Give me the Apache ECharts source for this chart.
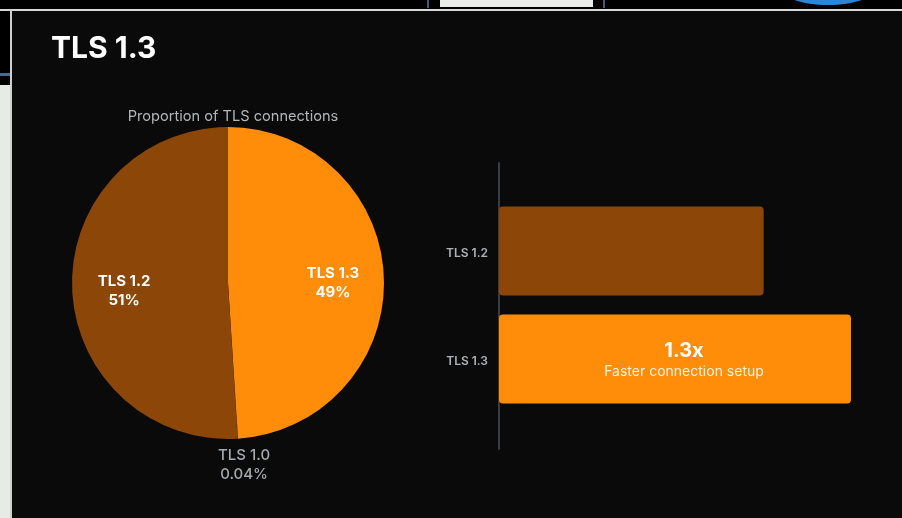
<!DOCTYPE html>
<html><head><meta charset="utf-8">
<script src="https://cdn.jsdelivr.net/npm/echarts@6/dist/echarts.min.js"></script>
<style>html,body{margin:0;padding:0;background:#000;}#c{width:902px;height:518px;}</style>
</head><body><div id="c"></div>
<script>
const pieTitle = 'Proportion of TLS connections';
const pieNames = ['TLS 1.3', 'TLS 1.0', 'TLS 1.2'];
const pieValues = [49, 0.04, 51];
const pieLabels = ['49%', '0.04%', '51%'];
const barCategories = ['TLS 1.2', 'TLS 1.3'];
const barValues = [1, 1.33];
const barNote = ['', '1.3x'];
const barSub = ['', 'Faster connection setup'];

const DARK = '#8c4607';
const BRIGHT = '#ff8d0a';
const FONT = 'Inter, "Noto Sans", sans-serif';

const chart = echarts.init(document.getElementById('c'), null, {renderer: 'canvas'});

const pieData = pieNames.map((n, i) => {
  const d = {name: n, value: pieValues[i], itemStyle: {color: i === 0 ? BRIGHT : (i === 1 ? '#c06a10' : DARK)}};
  if (i === 1) {
    d.label = {position: 'inside', color: '#a8abae', fontWeight: 500, offset: [11, 101]};
  } else if (i === 0) {
    d.label = {offset: [24, 3]};
  } else {
    d.label = {offset: [-23, 5]};
  }
  return d;
});

chart.setOption({
  backgroundColor: '#0a0a0a',
  animation: false,
  title: [{
    text: 'TLS 1.3', left: 46, top: 29,
    textStyle: {color: '#ffffff', fontSize: 30, fontWeight: 'bold', fontFamily: FONT}
  }, {
    text: pieTitle, left: 228, top: 104, textAlign: 'center',
    textStyle: {color: '#b3b6ba', fontSize: 14.6, fontWeight: 'normal', fontFamily: FONT}
  }],
  graphic: [
    {type: 'rect', shape: {x: 0, y: 0, width: 902, height: 9}, style: {fill: '#000'}, z: 100},
    {type: 'rect', shape: {x: 440, y: 0, width: 153, height: 7}, style: {fill: '#e9ece8'}, z: 101},
    {type: 'rect', shape: {x: 427, y: 0, width: 2, height: 8}, style: {fill: '#3d5a7a'}, z: 101},
    {type: 'rect', shape: {x: 603, y: 0, width: 2, height: 8}, style: {fill: '#3d5a7a'}, z: 101},
    {type: 'ellipse', shape: {cx: 828, cy: -14, rx: 50, ry: 19}, style: {fill: '#2a86d6'}, z: 101},
    {type: 'rect', shape: {x: 0, y: 9, width: 902, height: 2}, style: {fill: '#d8d8d8'}, z: 101},
    {type: 'rect', shape: {x: 0, y: 0, width: 10, height: 518}, style: {fill: '#000'}, z: 100},
    {type: 'rect', shape: {x: 0, y: 85, width: 10, height: 433}, style: {fill: '#e6ebe6'}, z: 101},
    {type: 'rect', shape: {x: 0, y: 73, width: 10, height: 3}, style: {fill: '#4a6a8a'}, z: 101},
    {type: 'rect', shape: {x: 10, y: 9, width: 2, height: 509}, style: {fill: '#cfcfcf'}, z: 101}
  ],
  grid: [
    {left: 499, top: 197, width: 397, height: 216},
    {left: 499, top: 163, width: 397, height: 286}
  ],
  xAxis: [
    {gridIndex: 0, type: 'value', min: 0, max: 1.5, show: false},
    {gridIndex: 1, type: 'value', min: 0, max: 1, show: false}
  ],
  yAxis: [
    {gridIndex: 0, type: 'category', inverse: true, data: barCategories,
     axisLine: {show: false}, axisTick: {show: false},
     axisLabel: {color: '#b0b3b6', fontSize: 12, fontWeight: 600, fontFamily: FONT, margin: 11, lineHeight: 18, verticalAlign: 'top', padding: [-7, 0, 0, 0]}},
    {gridIndex: 1, type: 'value', min: 0, max: 1,
     axisLine: {show: true, lineStyle: {color: '#3a3d40', width: 2}},
     axisTick: {show: false}, axisLabel: {show: false}, splitLine: {show: false}}
  ],
  series: [
    {
      type: 'pie', center: [228, 283], radius: 156, startAngle: 90, clockwise: true,
      avoidLabelOverlap: false, silent: true,
      label: {
        show: true, position: 'inside', color: '#ffffff', fontSize: 15, fontWeight: 'bold',
        lineHeight: 19, fontFamily: FONT,
        formatter: p => p.name + '\n' + pieLabels[p.dataIndex]
      },
      labelLine: {show: false},
      itemStyle: {borderWidth: 0},
      data: pieData
    },
    {
      type: 'bar', xAxisIndex: 0, yAxisIndex: 0, barWidth: 89,
      data: barValues.map((v, i) => ({value: v, itemStyle: {color: i === 0 ? DARK : BRIGHT}})),
      itemStyle: {borderRadius: 4},
      label: {
        show: true, position: 'inside', offset: [9, 1],
        formatter: p => barNote[p.dataIndex] ? '{a|' + barNote[p.dataIndex] + '}\n{b|' + barSub[p.dataIndex] + '}' : '',
        rich: {
          a: {color: '#ffffff', fontSize: 20, fontWeight: 'bold', fontFamily: FONT, lineHeight: 24},
          b: {color: '#fff3e0', fontSize: 14, fontFamily: FONT, lineHeight: 19}
        }
      }
    }
  ]
});
</script>
</body></html>
